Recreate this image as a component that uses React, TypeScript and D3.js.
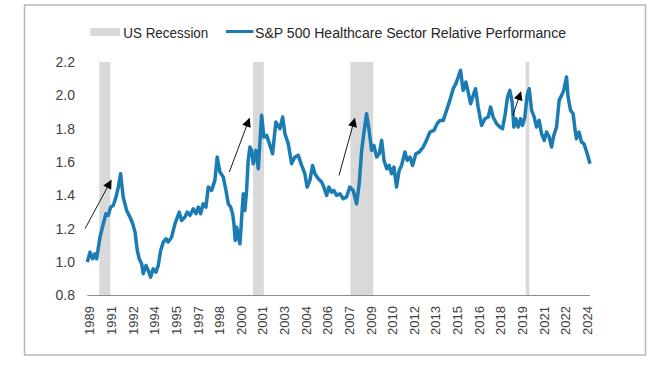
import React from "react";
import * as d3 from "d3";

// decimal-year dates and relative performance values
const dates: number[] = [
  1989.67, 1989.86, 1990.04, 1990.2, 1990.32, 1990.55, 1990.78, 1990.96, 1991.12, 1991.29,
  1991.47, 1991.66, 1991.82, 1991.98, 1992.16, 1992.4, 1992.63, 1992.82, 1992.98, 1993.14,
  1993.27, 1993.44, 1993.55, 1993.74, 1993.9, 1994.06, 1994.24, 1994.43, 1994.59, 1994.76,
  1994.94, 1995.13, 1995.28, 1995.52, 1995.75, 1996.05, 1996.21, 1996.44, 1996.6, 1996.79,
  1997.02, 1997.21, 1997.37, 1997.53, 1997.71, 1997.9, 1998.06, 1998.29, 1998.52, 1998.68,
  1998.87, 1999.1, 1999.29, 1999.45, 1999.61, 1999.75, 1999.84, 1999.93, 2000.03, 2000.14,
  2000.26, 2000.38, 2000.49, 2000.6, 2000.72, 2000.83, 2000.95, 2001.07, 2001.18, 2001.37,
  2001.53, 2001.76, 2001.92, 2002.11, 2002.34, 2002.52, 2002.75, 2003.03, 2003.22, 2003.38,
  2003.61, 2003.84, 2004.07, 2004.3, 2004.54, 2004.76, 2004.92, 2005.11, 2005.3, 2005.46,
  2005.69, 2005.92, 2006.08, 2006.27, 2006.43, 2006.61, 2006.77, 2006.96, 2007.19, 2007.42,
  2007.65, 2007.88, 2008.11, 2008.35, 2008.53, 2008.7, 2008.88, 2009.04, 2009.22, 2009.39,
  2009.55, 2009.74, 2009.92, 2010.09, 2010.25, 2010.44, 2010.61, 2010.78, 2010.94, 2011.12,
  2011.3, 2011.47, 2011.7, 2011.86, 2012.05, 2012.23, 2012.46, 2012.69, 2012.97, 2013.2,
  2013.43, 2013.71, 2013.94, 2014.13, 2014.36, 2014.59, 2014.82, 2015.05, 2015.24, 2015.4,
  2015.56, 2015.74, 2015.93, 2016.09, 2016.26, 2016.44, 2016.6, 2016.78, 2017.02, 2017.25,
  2017.48, 2017.64, 2017.82, 2018.06, 2018.29, 2018.47, 2018.66, 2018.82, 2018.98, 2019.14,
  2019.26, 2019.4, 2019.56, 2019.72, 2019.86, 2020.02, 2020.18, 2020.32, 2020.49, 2020.67,
  2020.83, 2021.01, 2021.18, 2021.36, 2021.53, 2021.71, 2021.87, 2022.03, 2022.22, 2022.4,
  2022.57, 2022.72, 2022.91, 2023.02, 2023.19, 2023.37, 2023.48, 2023.6, 2023.78, 2023.95,
  2024.12, 2024.31, 2024.54,
];

const values: number[] = [
  1.0, 1.06, 1.02, 1.05, 1.02, 1.15, 1.23, 1.29, 1.28, 1.33,
  1.34, 1.39, 1.45, 1.53, 1.39, 1.31, 1.27, 1.23, 1.18, 1.07,
  1.02, 0.99, 0.93, 0.98, 0.95, 0.91, 0.96, 0.94, 0.98, 1.07,
  1.12, 1.14, 1.12, 1.15, 1.23, 1.3, 1.25, 1.27, 1.3, 1.28,
  1.32, 1.29, 1.33, 1.29, 1.35, 1.33, 1.45, 1.43, 1.49, 1.63,
  1.54, 1.51, 1.43, 1.35, 1.33, 1.29, 1.23, 1.13, 1.21, 1.15,
  1.11, 1.27, 1.41, 1.31, 1.43, 1.61, 1.69, 1.67, 1.59, 1.67,
  1.56, 1.88, 1.75, 1.76, 1.7, 1.65, 1.84, 1.8, 1.87, 1.77,
  1.71, 1.59, 1.63, 1.64, 1.58, 1.53, 1.45, 1.49, 1.58, 1.53,
  1.5, 1.48, 1.45, 1.4, 1.45, 1.42, 1.43, 1.4, 1.41, 1.38,
  1.39, 1.45, 1.43, 1.35, 1.47, 1.67, 1.79, 1.89, 1.79, 1.67,
  1.7, 1.63, 1.65, 1.73, 1.61, 1.56, 1.58, 1.53, 1.57, 1.45,
  1.55, 1.58, 1.66, 1.61, 1.63, 1.58, 1.65, 1.66, 1.69, 1.73,
  1.78, 1.79, 1.83, 1.85, 1.85, 1.91, 1.97, 2.04, 2.07, 2.11,
  2.15, 2.03, 2.08, 2.02, 1.95, 2.0, 2.04, 1.93, 1.82, 1.86,
  1.87, 1.93, 1.87, 1.83, 1.81, 1.8, 1.89, 1.99, 2.03, 1.96,
  1.81, 1.86, 1.81, 1.86, 1.82, 1.87, 2.0, 2.04, 1.91, 1.87,
  1.81, 1.85, 1.77, 1.73, 1.78, 1.75, 1.69, 1.76, 1.81, 1.97,
  2.0, 2.03, 2.11, 1.99, 1.91, 1.89, 1.81, 1.74, 1.78, 1.72,
  1.71, 1.66, 1.59,
];

const recessionStarts: number[] = [1990.5, 2001.17, 2007.92, 2020.08];
const recessionEnds: number[] = [1991.27, 2001.92, 2009.5, 2020.33];

const yTicks: number[] = [0.8, 1.0, 1.2, 1.4, 1.6, 1.8, 2.0, 2.2];
const xTickLabels: string[] = [
  "1989", "1991", "1992", "1994", "1995", "1997", "1998", "2000", "2001", "2003", "2004", "2006",
  "2007", "2009", "2010", "2012", "2013", "2015", "2016", "2018", "2019", "2021", "2022", "2024",
];
const xTickStart = 1989.85;
const xTickStep = 1.5;

// annotation arrows [date, value]
const arrowFrom: [number, number][] = [
  [1989.51, 1.2],
  [1999.52, 1.54],
  [2007.13, 1.52],
  [2019.19, 1.88],
];
const arrowTo: [number, number][] = [
  [1991.32, 1.49],
  [2000.91, 1.86],
  [2008.22, 1.86],
  [2019.74, 2.02],
];

const legendRecession = "US Recession";
const legendSeries = "S&P 500 Healthcare Sector Relative Performance";

const W = 671;
const H = 376;
const FONT = "'Liberation Sans', Arial, Helvetica, sans-serif";
const BLUE = "#1b7cb4";
const GREY = "#d9d9d9";

export default function App() {
  const x = d3.scaleLinear().domain([1989.67, 2024.54]).range([87.3, 590]);
  const y = d3.scaleLinear().domain([0.8, 2.2]).range([295.5, 62]);

  const pts: [number, number][] = dates.map((d, i) => [d, values[i]]);
  const line = d3
    .line<[number, number]>()
    .x((d) => x(d[0]))
    .y((d) => y(d[1]))
    .curve(d3.curveLinear);

  return (
    <svg
      width={W}
      height={H}
      style={{ position: "absolute", left: 0, top: 0, background: "#fff" }}
      fontFamily={FONT}
    >
      <defs>
        <marker
          id="ah"
          viewBox="0 0 10 10"
          refX="9"
          refY="5"
          markerWidth="10"
          markerHeight="9"
          orient="auto"
          markerUnits="userSpaceOnUse"
        >
          <path d="M0,0 L10,5 L0,10 z" fill="#000" />
        </marker>
      </defs>
      <rect x={24.5} y={5} width={621} height={350} fill="#fff" stroke="#b8b8b8" strokeWidth={1.5} />

      {/* legend */}
      <rect x={90.5} y={28} width={29.5} height={8} fill={GREY} />
      <text x={123.3} y={37.5} fontSize={14} fill="#262626" textLength={85} lengthAdjust="spacingAndGlyphs">
        {legendRecession}
      </text>
      <line x1={226} x2={253.5} y1={31.5} y2={31.5} stroke={BLUE} strokeWidth={3} />
      <text x={255} y={37.5} fontSize={14} fill="#262626" textLength={311} lengthAdjust="spacingAndGlyphs">
        {legendSeries}
      </text>

      {/* recession bars */}
      {recessionStarts.map((s, i) => (
        <rect
          key={"r" + i}
          x={x(s)}
          y={y(2.2)}
          width={x(recessionEnds[i]) - x(s)}
          height={y(0.8) - y(2.2)}
          fill={GREY}
        />
      ))}

      {/* axis line */}
      <line x1={x.range()[0]} x2={x.range()[1]} y1={y(0.8)} y2={y(0.8)} stroke="#8c8c8c" strokeWidth={1.2} />

      {/* y tick labels */}
      {yTicks.map((t) => (
        <text key={"y" + t} x={75} y={y(t)} dy="0.35em" textAnchor="end" fontSize={14} fill="#404040">
          {d3.format(".1f")(t)}
        </text>
      ))}

      {/* x tick labels */}
      {xTickLabels.map((lab, i) => {
        const xp = x(xTickStart + xTickStep * i);
        return (
          <text
            key={"x" + lab}
            transform={`translate(${xp},306) rotate(-90)`}
            dy="0.35em"
            textAnchor="end"
            fontSize={13}
            fill="#404040"
          >
            {lab}
          </text>
        );
      })}

      {/* series line */}
      <path d={line(pts) || ""} fill="none" stroke={BLUE} strokeWidth={3.5} strokeLinejoin="round" />

      {/* arrows */}
      {arrowFrom.map((f, i) => (
        <line
          key={"a" + i}
          x1={x(f[0])}
          y1={y(f[1])}
          x2={x(arrowTo[i][0])}
          y2={y(arrowTo[i][1])}
          stroke="#000"
          strokeWidth={0.9}
          markerEnd="url(#ah)"
        />
      ))}
    </svg>
  );
}
